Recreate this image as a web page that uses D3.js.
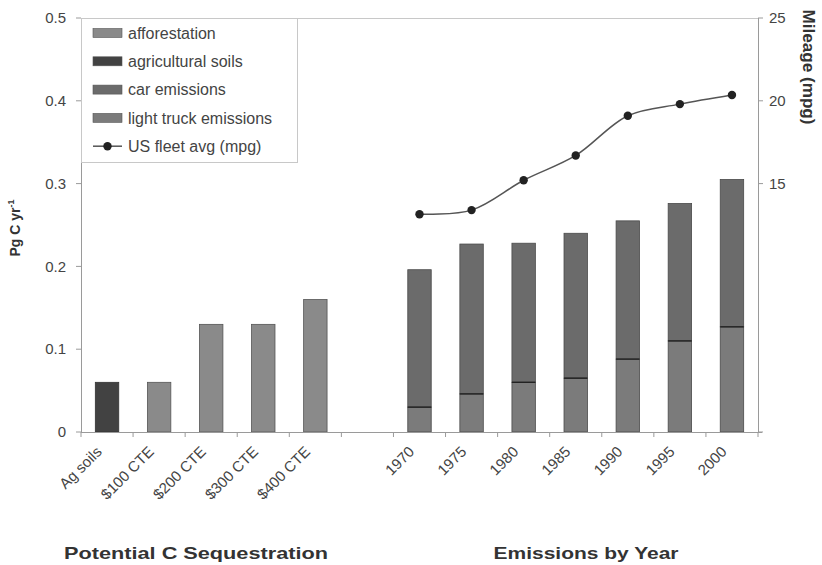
<!DOCTYPE html>
<html><head><meta charset="utf-8">
<script src="https://cdn.jsdelivr.net/npm/d3@7"></script>
<style>body{margin:0;background:#fff}svg{display:block;font-family:"Liberation Sans",Arial,sans-serif}</style>
</head><body><svg id="c" width="822" height="565"></svg>
<script>
const categories = ["Ag soils","$100 CTE","$200 CTE","$300 CTE","$400 CTE","","1970","1975","1980","1985","1990","1995","2000"];
const seqCats = ["Ag soils","$100 CTE","$200 CTE","$300 CTE","$400 CTE"];
const agSoils = [0.06, 0, 0, 0, 0];
const afforestation = [0, 0.06, 0.13, 0.13, 0.16];
const years = ["1970","1975","1980","1985","1990","1995","2000"];
const lightTruck = [0.030, 0.046, 0.060, 0.065, 0.088, 0.110, 0.127];
const carEm = [0.166, 0.181, 0.168, 0.175, 0.167, 0.166, 0.178];
const mpg = [13.15, 13.4, 15.2, 16.7, 19.1, 19.8, 20.35];
const leftTicks = [0, 0.1, 0.2, 0.3, 0.4, 0.5];
const rightTicks = [15, 20, 25];

const svg = d3.select("#c");
const L = 81, R = 758, T = 18, B = 432;
const x = d3.scaleBand().domain(categories).range([L, R]).paddingInner(0.55).paddingOuter(0.275);
const y = d3.scaleLinear().domain([0, 0.5]).range([B, T]);
const y2 = d3.scaleLinear().domain([0, 25]).range([B, T]);
const axisCol = "#9a9a9a", txtCol = "#444";
const cAff = "#8a8a8a", cAg = "#424242", cCar = "#6b6b6b", cTruck = "#7b7b7b";

svg.append("line").attr("x1", L).attr("x2", R).attr("y1", T + 0.5).attr("y2", T + 0.5).attr("stroke", "#c8c8c8");

seqCats.forEach((c, i) => {
  if (agSoils[i] > 0) svg.append("rect").attr("x", x(c)).attr("width", x.bandwidth()).attr("y", y(agSoils[i])).attr("height", y(0) - y(agSoils[i])).attr("fill", cAg).attr("stroke", "#333").attr("stroke-width", 0.8);
  if (afforestation[i] > 0) svg.append("rect").attr("x", x(c)).attr("width", x.bandwidth()).attr("y", y(afforestation[i])).attr("height", y(0) - y(afforestation[i])).attr("fill", cAff).attr("stroke", "#555").attr("stroke-width", 0.8);
});
years.forEach((yr, i) => {
  const t = lightTruck[i], c = carEm[i];
  svg.append("rect").attr("x", x(yr)).attr("width", x.bandwidth()).attr("y", y(t + c)).attr("height", y(t) - y(t + c)).attr("fill", cCar).attr("stroke", "#4a4a4a").attr("stroke-width", 0.8);
  svg.append("rect").attr("x", x(yr)).attr("width", x.bandwidth()).attr("y", y(t)).attr("height", y(0) - y(t)).attr("fill", cTruck).attr("stroke", "#4a4a4a").attr("stroke-width", 0.8);
  svg.append("line").attr("x1", x(yr)).attr("x2", x(yr) + x.bandwidth()).attr("y1", y(t)).attr("y2", y(t)).attr("stroke", "#222").attr("stroke-width", 1.4);
});

const gl = svg.append("g");
gl.append("line").attr("x1", L + 0.5).attr("x2", L + 0.5).attr("y1", T).attr("y2", B).attr("stroke", axisCol);
leftTicks.forEach(v => {
  gl.append("line").attr("x1", L - 5).attr("x2", L).attr("y1", y(v)).attr("y2", y(v)).attr("stroke", axisCol);
  gl.append("text").attr("x", L - 15).attr("y", y(v)).attr("dy", "0.35em").attr("text-anchor", "end").attr("font-size", 15).attr("fill", txtCol).text(v === 0 ? "0" : d3.format(".1f")(v));
});
const gr = svg.append("g");
gr.append("line").attr("x1", R + 0.5).attr("x2", R + 0.5).attr("y1", T).attr("y2", B).attr("stroke", axisCol);
gr.append("line").attr("x1", R).attr("x2", R + 5).attr("y1", B).attr("y2", B).attr("stroke", axisCol);
rightTicks.forEach(v => {
  gr.append("line").attr("x1", R).attr("x2", R + 5).attr("y1", y2(v)).attr("y2", y2(v)).attr("stroke", axisCol);
  gr.append("text").attr("x", R + 11).attr("y", y2(v)).attr("dy", "0.35em").attr("text-anchor", "start").attr("font-size", 15).attr("fill", txtCol).text(v);
});
const gx = svg.append("g");
gx.append("line").attr("x1", L).attr("x2", R + 4).attr("y1", B + 0.5).attr("y2", B + 0.5).attr("stroke", axisCol);
const half = (x.step() - x.bandwidth()) / 2;
categories.forEach(c => {
  const bx = x(c) - half;
  gx.append("line").attr("x1", bx).attr("x2", bx).attr("y1", B).attr("y2", B + 5).attr("stroke", axisCol);
  if (c) gx.append("text").attr("transform", `translate(${x(c) + x.bandwidth() / 2 - 8},${B + 17}) rotate(-45)`).attr("text-anchor", "end").attr("dy", "0.35em").attr("font-size", 15).attr("fill", txtCol).text(c);
});
gx.append("line").attr("x1", R).attr("x2", R).attr("y1", B).attr("y2", B + 5).attr("stroke", axisCol);

const line = d3.line().x((d, i) => x(years[i]) + x.bandwidth() / 2).y(d => y2(d)).curve(d3.curveCatmullRom.alpha(0.5));
svg.append("path").attr("d", line(mpg)).attr("fill", "none").attr("stroke", "#555").attr("stroke-width", 1.5);
svg.selectAll("circle.m").data(mpg).enter().append("circle").attr("class", "m")
  .attr("cx", (d, i) => x(years[i]) + x.bandwidth() / 2).attr("cy", d => y2(d)).attr("r", 4.2).attr("fill", "#222");

const lg = svg.append("g");
lg.append("rect").attr("x", L + 0.5).attr("y", T + 0.5).attr("width", 297 - L).attr("height", 162 - T).attr("fill", "#fff").attr("stroke", "#c8c8c8");
const leg = [["afforestation", cAff], ["agricultural soils", cAg], ["car emissions", cCar], ["light truck emissions", cTruck], ["US fleet avg (mpg)", null]];
leg.forEach((d, i) => {
  const cy = 33 + i * 28.3;
  if (d[1]) lg.append("rect").attr("x", 93).attr("y", cy - 4.5).attr("width", 29).attr("height", 9).attr("fill", d[1]).attr("stroke", "#555").attr("stroke-width", 0.6);
  else {
    lg.append("line").attr("x1", 93).attr("x2", 122).attr("y1", cy).attr("y2", cy).attr("stroke", "#555").attr("stroke-width", 1.5);
    lg.append("circle").attr("cx", 107.5).attr("cy", cy).attr("r", 4.2).attr("fill", "#222");
  }
  lg.append("text").attr("x", 128).attr("y", cy).attr("dy", "0.35em").attr("font-size", 16).attr("fill", txtCol).text(d[0]);
});

const yt = svg.append("text").attr("transform", "translate(20,228) rotate(-90)").attr("text-anchor", "middle").attr("font-size", 14).attr("font-weight", "bold").attr("fill", "#333");
yt.append("tspan").text("Pg C yr");
yt.append("tspan").attr("font-size", 9).attr("dy", -6).text("-1");
svg.append("text").attr("transform", "translate(803,67) rotate(90)").attr("text-anchor", "middle").attr("font-size", 16).attr("font-weight", "bold").attr("fill", "#333").attr("textLength", 115).attr("lengthAdjust", "spacingAndGlyphs").text("Mileage (mpg)");
svg.append("text").attr("x", 196).attr("y", 559).attr("text-anchor", "middle").attr("font-size", 17).attr("font-weight", "bold").attr("fill", "#333").attr("textLength", 264).attr("lengthAdjust", "spacingAndGlyphs").text("Potential C Sequestration");
svg.append("text").attr("x", 586).attr("y", 559).attr("text-anchor", "middle").attr("font-size", 17).attr("font-weight", "bold").attr("fill", "#333").attr("textLength", 185).attr("lengthAdjust", "spacingAndGlyphs").text("Emissions by Year");
</script></body></html>
